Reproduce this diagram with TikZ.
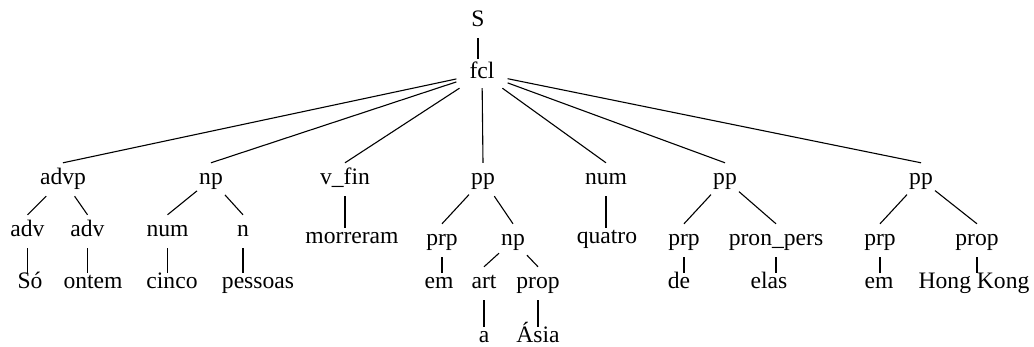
\documentclass[tikz,border=0pt]{standalone}
\usepackage{fontspec}
\setmainfont{Liberation Serif}
\begin{document}
\begin{tikzpicture}[x=1pt, y=-1pt,
  font=\fontsize{23.6}{28}\selectfont,
  lab/.style={anchor=base, inner xsep=2pt, inner ysep=6pt, text height=16pt, text depth=5pt},
  word/.style={lab, inner ysep=0pt},
  edge/.style={line width=1.1pt}]
\useasboundingbox (0,0) rectangle (1034,347);

% root and clause
\node[lab] (S)   at (478,27) {S};
\node[lab, inner xsep=13pt, inner ysep=4pt] (fcl) at (482,79) {fcl};

% constituents of the clause
\node[lab] (advp) at (63,185)  {advp};
\node[lab] (np1)  at (211,185) {np};
\node[lab] (vfin) at (345,185) {v\_fin};
\node[lab] (pp1)  at (483,185) {pp};
\node[lab] (num1) at (606,185) {num};
\node[lab] (pp2)  at (725,185) {pp};
\node[lab] (pp3)  at (921,185) {pp};

% third level
\node[lab] (adv1)     at (27.5,237) {adv};
\node[lab] (adv2)     at (87.5,237) {adv};
\node[lab] (num2)     at (167.5,237) {num};
\node[lab] (n)        at (243,237) {n};
\node[word] (morreram) at (352,244) {morreram};
\node[lab] (prp1)     at (442,246) {prp};
\node[lab] (np2)      at (513,246) {np};
\node[word] (quatro)  at (607,244) {quatro};
\node[lab] (prp2)     at (684,246) {prp};
\node[lab] (pronpers) at (776,246) {pron\_pers};
\node[lab] (prp3)     at (880,246) {prp};
\node[lab] (prop2)    at (977,246) {prop};

% fourth level
\node[word] (so)      at (30,289)  {Só};
\node[word] (ontem)   at (93,289)  {ontem};
\node[word] (cinco)   at (172,289) {cinco};
\node[word] (pessoas) at (258,289) {pessoas};
\node[word] (em1)     at (439,289) {em};
\node[lab]  (art)     at (484,289) {art};
\node[lab]  (prop1)   at (538,289) {prop};
\node[word] (de)      at (679,289) {de};
\node[word] (elas)    at (769,289) {elas};
\node[word] (em2)     at (879,289) {em};
\node[word] (hk)      at (974,289) {Hong Kong};

% fifth level
\node[word] (a)    at (484,343) {a};
\node[word] (asia) at (538,343) {Ásia};

% branches
\draw[edge] (S.south) -- (S.south |- fcl.north);
\foreach \c in {advp,np1,vfin,pp1,num1,pp2,pp3}
  \draw[edge] (fcl) -- (\c.north);
\foreach \p/\c in {advp/adv1, advp/adv2, np1/num2, np1/n, pp1/prp1, pp1/np2,
                   np2/art, np2/prop1, pp2/prp2, pp2/pronpers, pp3/prp3, pp3/prop2}
  \draw[edge] (\p) -- (\c.north);

% lexical items hang straight down
\foreach \p/\c in {vfin/morreram, num1/quatro, adv1/so, adv2/ontem, num2/cinco,
                   n/pessoas, prp1/em1, art/a, prop1/asia, prp2/de,
                   pronpers/elas, prp3/em2, prop2/hk}
  \draw[edge] (\p.south) -- (\p.south |- \c.north);
\end{tikzpicture}
\end{document}
